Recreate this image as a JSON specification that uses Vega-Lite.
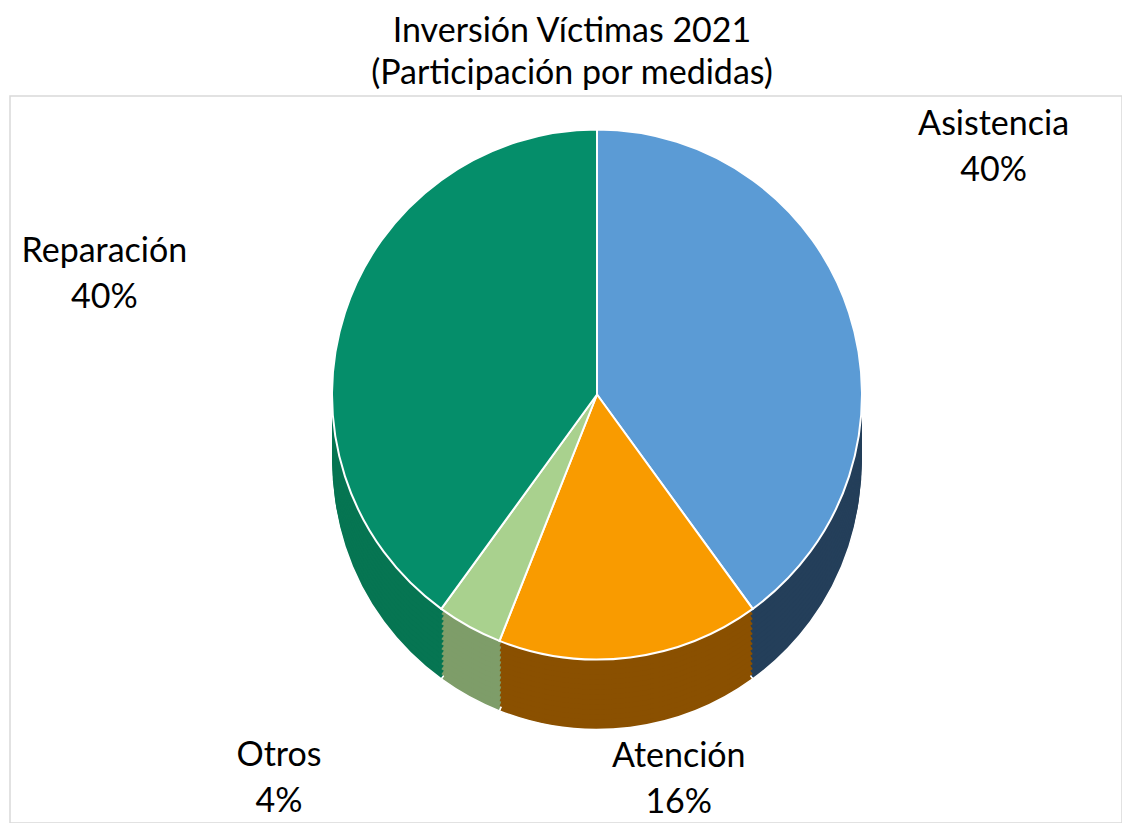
{
  "$schema": "https://vega.github.io/schema/vega-lite/v6.json",
  "autosize": {"type": "none"},
  "padding": {"left": 10, "top": 96, "right": 0, "bottom": 0},
  "width": 1112,
  "height": 727,
  "background": "white",
  "view": {"stroke": "#d9d9d9", "strokeWidth": 1.5},
  "config": {"view": {"stroke": "#d9d9d9", "strokeWidth": 1.5}, "font": "Lato"},
  "title": {
    "text": ["Inversión Víctimas 2021", "(Participación por medidas)"],
    "fontSize": 34, "fontWeight": "normal", "color": "#000000", "font": "Lato",
    "lineHeight": 42, "anchor": "middle", "frame": "group", "offset": 5, "dx": 6
  },
  "data": {"values": [
    {"medida": "Asistencia", "pct": 40},
    {"medida": "Atención", "pct": 16},
    {"medida": "Otros", "pct": 4},
    {"medida": "Reparación", "pct": 40}
  ]},
  "transform": [
    {"stack": "pct", "groupby": [], "sort": [{"field": "medida", "order": "ascending"}], "as": ["t0", "t1"]},
    {"calculate": "(datum.t0 + datum.t1) / 2", "as": "tm"},
    {"calculate": "[datum.medida, datum.pct + '%']", "as": "label"}
  ],
  "encoding": {
    "theta": {"field": "t0", "type": "quantitative", "scale": {"domain": [0, 100]}},
    "theta2": {"field": "t1"}
  },
  "layer": [
    {"mark": {"type": "arc", "outerRadius": 265, "xOffset": 31, "yOffset": 5, "stroke": "#ffffff", "strokeWidth": 1.5},
     "encoding": {"color": {"field": "medida", "type": "nominal", "legend": null,
       "scale": {"domain": ["Asistencia", "Atención", "Otros", "Reparación"], "range": ["#243f5a", "#8a5000", "#7e9d69", "#067552"]}}}},
    {"mark": {"type": "arc", "outerRadius": 265, "xOffset": 31, "yOffset": 0},
     "encoding": {"color": {"field": "medida", "type": "nominal", "legend": null,
       "scale": {"domain": ["Asistencia", "Atención", "Otros", "Reparación"], "range": ["#243f5a", "#8a5000", "#7e9d69", "#067552"]}}}},
    {"mark": {"type": "arc", "outerRadius": 265, "xOffset": 31, "yOffset": -5},
     "encoding": {"color": {"field": "medida", "type": "nominal", "legend": null,
       "scale": {"domain": ["Asistencia", "Atención", "Otros", "Reparación"], "range": ["#243f5a", "#8a5000", "#7e9d69", "#067552"]}}}},
    {"mark": {"type": "arc", "outerRadius": 265, "xOffset": 31, "yOffset": -10},
     "encoding": {"color": {"field": "medida", "type": "nominal", "legend": null,
       "scale": {"domain": ["Asistencia", "Atención", "Otros", "Reparación"], "range": ["#243f5a", "#8a5000", "#7e9d69", "#067552"]}}}},
    {"mark": {"type": "arc", "outerRadius": 265, "xOffset": 31, "yOffset": -15},
     "encoding": {"color": {"field": "medida", "type": "nominal", "legend": null,
       "scale": {"domain": ["Asistencia", "Atención", "Otros", "Reparación"], "range": ["#243f5a", "#8a5000", "#7e9d69", "#067552"]}}}},
    {"mark": {"type": "arc", "outerRadius": 265, "xOffset": 31, "yOffset": -20},
     "encoding": {"color": {"field": "medida", "type": "nominal", "legend": null,
       "scale": {"domain": ["Asistencia", "Atención", "Otros", "Reparación"], "range": ["#243f5a", "#8a5000", "#7e9d69", "#067552"]}}}},
    {"mark": {"type": "arc", "outerRadius": 265, "xOffset": 31, "yOffset": -25},
     "encoding": {"color": {"field": "medida", "type": "nominal", "legend": null,
       "scale": {"domain": ["Asistencia", "Atención", "Otros", "Reparación"], "range": ["#243f5a", "#8a5000", "#7e9d69", "#067552"]}}}},
    {"mark": {"type": "arc", "outerRadius": 265, "xOffset": 31, "yOffset": -30},
     "encoding": {"color": {"field": "medida", "type": "nominal", "legend": null,
       "scale": {"domain": ["Asistencia", "Atención", "Otros", "Reparación"], "range": ["#243f5a", "#8a5000", "#7e9d69", "#067552"]}}}},
    {"mark": {"type": "arc", "outerRadius": 265, "xOffset": 31, "yOffset": -35},
     "encoding": {"color": {"field": "medida", "type": "nominal", "legend": null,
       "scale": {"domain": ["Asistencia", "Atención", "Otros", "Reparación"], "range": ["#243f5a", "#8a5000", "#7e9d69", "#067552"]}}}},
    {"mark": {"type": "arc", "outerRadius": 265, "xOffset": 31, "yOffset": -40},
     "encoding": {"color": {"field": "medida", "type": "nominal", "legend": null,
       "scale": {"domain": ["Asistencia", "Atención", "Otros", "Reparación"], "range": ["#243f5a", "#8a5000", "#7e9d69", "#067552"]}}}},
    {"mark": {"type": "arc", "outerRadius": 265, "xOffset": 31, "yOffset": -45},
     "encoding": {"color": {"field": "medida", "type": "nominal", "legend": null,
       "scale": {"domain": ["Asistencia", "Atención", "Otros", "Reparación"], "range": ["#243f5a", "#8a5000", "#7e9d69", "#067552"]}}}},
    {"mark": {"type": "arc", "outerRadius": 265, "xOffset": 31, "yOffset": -50},
     "encoding": {"color": {"field": "medida", "type": "nominal", "legend": null,
       "scale": {"domain": ["Asistencia", "Atención", "Otros", "Reparación"], "range": ["#243f5a", "#8a5000", "#7e9d69", "#067552"]}}}},
    {"mark": {"type": "arc", "outerRadius": 265, "xOffset": 31, "yOffset": -55},
     "encoding": {"color": {"field": "medida", "type": "nominal", "legend": null,
       "scale": {"domain": ["Asistencia", "Atención", "Otros", "Reparación"], "range": ["#243f5a", "#8a5000", "#7e9d69", "#067552"]}}}},
    {"mark": {"type": "arc", "outerRadius": 265, "xOffset": 31, "yOffset": -60},
     "encoding": {"color": {"field": "medida", "type": "nominal", "legend": null,
       "scale": {"domain": ["Asistencia", "Atención", "Otros", "Reparación"], "range": ["#243f5a", "#8a5000", "#7e9d69", "#067552"]}}}},
    {"mark": {"type": "arc", "outerRadius": 265, "xOffset": 31, "yOffset": -65, "stroke": "#ffffff", "strokeWidth": 2},
     "encoding": {"color": {"field": "medida", "type": "nominal", "legend": null,
       "scale": {"domain": ["Asistencia", "Atención", "Otros", "Reparación"], "range": ["#5b9bd5", "#f99b00", "#a9d18e", "#058e6a"]}}}},
    {"transform": [{"filter": "datum.medida === 'Asistencia'"}],
     "mark": {"type": "text", "radius": 417, "xOffset": 31, "yOffset": -65, "dy": -141, "fontSize": 34, "lineHeight": 46, "font": "Lato", "color": "#000000"},
     "encoding": {"theta": {"field": "tm", "type": "quantitative"}, "theta2": null, "text": {"field": "label"}}},
    {"transform": [{"filter": "datum.medida === 'Reparación'"}],
     "mark": {"type": "text", "radius": 518, "xOffset": 31, "yOffset": -65, "dy": 18, "fontSize": 34, "lineHeight": 46, "font": "Lato", "color": "#000000"},
     "encoding": {"theta": {"field": "tm", "type": "quantitative"}, "theta2": null, "text": {"field": "label"}}},
    {"transform": [{"filter": "datum.medida === 'Otros'"}],
     "mark": {"type": "text", "radius": 413, "xOffset": 31, "yOffset": -65, "dx": -119, "fontSize": 34, "lineHeight": 46, "font": "Lato", "color": "#000000"},
     "encoding": {"theta": {"field": "tm", "type": "quantitative"}, "theta2": null, "text": {"field": "label"}}},
    {"transform": [{"filter": "datum.medida === 'Atención'"}],
     "mark": {"type": "text", "radius": 365, "xOffset": 31, "yOffset": -65, "dx": 36, "fontSize": 34, "lineHeight": 46, "font": "Lato", "color": "#000000"},
     "encoding": {"theta": {"field": "tm", "type": "quantitative"}, "theta2": null, "text": {"field": "label"}}}
  ],
  "resolve": {"scale": {"color": "independent"}}
}
